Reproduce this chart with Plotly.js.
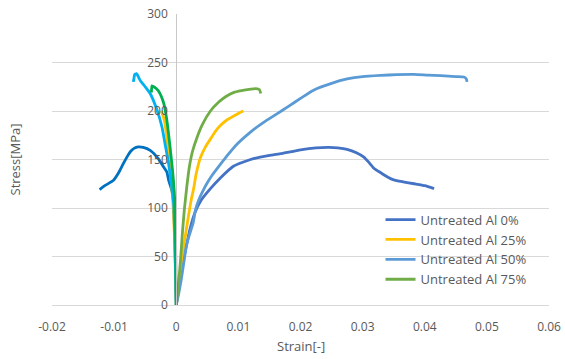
<!DOCTYPE html>
<html>
<head>
<meta charset="utf-8">
<script src="https://cdn.plot.ly/plotly-3.0.1.min.js"></script>
<style>html,body{margin:0;padding:0;background:#fff;}#chart{width:565px;height:359px;}</style>
</head>
<body>
<div id="chart"></div>
<script>
// Legend series (tension side)
var seriesNames = ["Untreated Al 0%", "Untreated Al 25%", "Untreated Al 50%", "Untreated Al 75%"];

var strain0 = [0, 0.0005, 0.001, 0.0016, 0.0022, 0.003, 0.004, 0.0055, 0.0071, 0.0092, 0.0115, 0.0135, 0.0168, 0.02, 0.0225, 0.0246, 0.026, 0.0275, 0.029, 0.0302, 0.031, 0.0318, 0.033, 0.034, 0.035, 0.0365, 0.0383, 0.04, 0.0415];
var stress0 = [0, 20, 40, 60, 78, 95, 108, 120, 131, 143, 149, 152.5, 156, 160, 162, 162.5, 162, 160.5, 157, 152.5, 147, 141, 136, 132, 129, 127, 125, 123, 120];

var strain25 = [0, 0.0003, 0.00054, 0.0008, 0.0012, 0.0016, 0.002, 0.0024, 0.0028, 0.0032, 0.0039, 0.0047, 0.0055, 0.0063, 0.0071, 0.0082, 0.0093, 0.0101, 0.0108];
var stress25 = [0, 12, 26, 42, 60, 77, 93, 108, 120, 135, 152, 163, 171, 179, 185, 191, 195, 198, 200];

var strain50 = [0, 0.0004, 0.0008, 0.0012, 0.0016, 0.0021, 0.0027, 0.0031, 0.0036, 0.0044, 0.005, 0.0058, 0.0071, 0.0082, 0.0095, 0.0119, 0.014, 0.0162, 0.018, 0.02, 0.0221, 0.025, 0.0275, 0.03, 0.0329, 0.0355, 0.0383, 0.0405, 0.0426, 0.045, 0.0463, 0.0467, 0.0468];
var stress50 = [0, 12, 26, 43, 60, 72, 84, 98, 108, 119, 126, 134, 145, 154, 164, 178, 188, 197, 204.5, 213, 221.5, 228.5, 233, 235.5, 236.7, 237.5, 237.7, 237, 236.5, 235.5, 235, 233, 230];

var strain75 = [0, 0.0003, 0.00065, 0.001, 0.0013, 0.0017, 0.0021, 0.0026, 0.0033, 0.0042, 0.0055, 0.0068, 0.008, 0.0092, 0.0105, 0.012, 0.0128, 0.0134, 0.0136];
var stress75 = [0, 18, 43, 75, 98, 122, 142, 158, 172, 186, 200, 209, 215, 219, 221, 222.5, 223, 222, 218];

// Compression-side series (not in legend)
var strainN0 = [-0.01234, -0.0115, -0.0101, -0.0093, -0.0085, -0.0078, -0.0074, -0.0068, -0.0061, -0.0053, -0.0042, -0.0029, -0.002, -0.0015, -0.00124, -0.0007, -0.00043, -0.0002, 0];
var stressN0 = [119, 123, 128.6, 136, 146, 154, 158, 161.5, 163, 162.5, 159.5, 151, 142, 137, 129, 118, 105, 60, 0];

var strainN25 = [-0.0024, -0.0019, -0.0014, -0.001, -0.0006, -0.0002, 0];
var stressN25 = [200, 190, 166, 140, 112, 55, 0];

var strainN50 = [-0.0069, -0.0068, -0.0067, -0.0064, -0.0058, -0.005, -0.0042, -0.0031, -0.0023, -0.0018, -0.00124, -0.0008, -0.00043, -0.0002, 0];
var stressN50 = [230, 234, 237.5, 238.5, 231.5, 225, 218, 201, 183.5, 166, 146, 125, 105, 60, 0];

var strainN75 = [-0.004, -0.0039, -0.0035, -0.0029, -0.0024, -0.002, -0.0015, -0.001, -0.0006, -0.00027, -0.0001, 0];
var stressN75 = [219, 226, 224.5, 221, 215, 207.5, 190, 163, 139, 111, 60, 0];

var xTickVals = [-0.02, -0.01, 0, 0.01, 0.02, 0.03, 0.04, 0.05, 0.06];
var xTickText = ["-0.02", "-0.01", "0", "0.01", "0.02", "0.03", "0.04", "0.05", "0.06"];
var yTickVals = [0, 50, 100, 150, 200, 250, 300];
var yTickText = ["0", "50", "100", "150", "200", "250", "300"];

var colors = ["#4472C4", "#FFC000", "#5B9BD5", "#70AD47"];
var negColors = ["#0070C0", "#FFC000", "#00B0F0", "#00B050"];

function tr(x, y, color, name, show) {
  return {x: x, y: y, type: "scatter", mode: "lines", name: name, showlegend: show,
          line: {color: color, width: 2.8, shape: "spline", smoothing: 0.5}, hoverinfo: "skip"};
}

var data = [
  tr(strain0, stress0, colors[0], seriesNames[0], true),
  tr(strain25, stress25, colors[1], seriesNames[1], true),
  tr(strain50, stress50, colors[2], seriesNames[2], true),
  tr(strain75, stress75, colors[3], seriesNames[3], true),
  tr(strainN0, stressN0, negColors[0], "", false),
  tr(strainN25, stressN25, negColors[1], "", false),
  tr(strainN50, stressN50, negColors[2], "", false),
  tr(strainN75, stressN75, negColors[3], "", false)
];

var fontFam = "Open Sans, Liberation Sans, sans-serif";
var layout = {
  width: 565, height: 359,
  margin: {l: 52, r: 16, t: 14, b: 54, pad: 0},
  paper_bgcolor: "#ffffff", plot_bgcolor: "#ffffff",
  font: {family: fontFam, size: 12, color: "#595959"},
  showlegend: true,
  legend: {x: 0.661, y: 0.345, xanchor: "left", yanchor: "top", bgcolor: "rgba(0,0,0,0)",
           font: {family: fontFam, size: 13, color: "#595959"}, tracegroupgap: 0},
  xaxis: {range: [-0.02, 0.06], tickmode: "array", tickvals: xTickVals, ticktext: xTickText,
          showgrid: false, zeroline: false, showline: true, linecolor: "#D9D9D9", linewidth: 1,
          ticks: "", ticklabelstandoff: 11, tickfont: {size: 12, color: "#595959"}, fixedrange: true},
  yaxis: {range: [0, 300], tickmode: "array", tickvals: yTickVals, ticktext: yTickText,
          showgrid: true, gridcolor: "#D9D9D9", gridwidth: 1, zeroline: false,
          anchor: "free", position: 0.25, showline: true, linecolor: "#C8C8C8", linewidth: 1,
          ticks: "", ticklabelstandoff: 6, tickfont: {size: 12, color: "#595959"}, fixedrange: true},
  annotations: [
    {text: "Stress[MPa]", xref: "paper", yref: "paper", x: 0, y: 0.5, xanchor: "center", yanchor: "middle",
     xshift: -38, textangle: -90, showarrow: false, font: {family: fontFam, size: 13, color: "#595959"}},
    {text: "Strain[-]", xref: "paper", yref: "paper", x: 0.5, y: 0, xanchor: "center", yanchor: "middle",
     yshift: -41, showarrow: false, font: {family: fontFam, size: 13, color: "#595959"}}
  ]
};

Plotly.newPlot("chart", data, layout, {displayModeBar: false, staticPlot: true});
</script>
</body>
</html>
